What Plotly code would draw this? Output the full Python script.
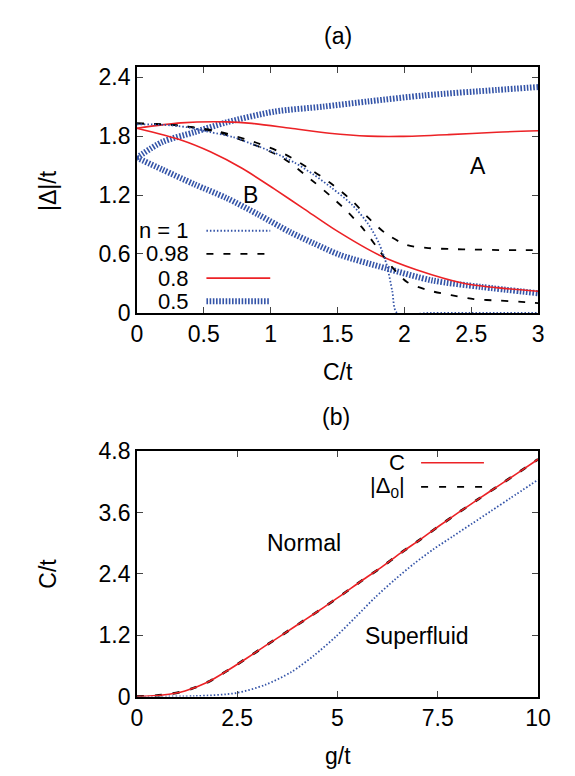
import plotly.graph_objects as go

# ---------------- Panel (a) data: |Delta|/t vs C/t ----------------
c_n1 = [0, 0.2, 0.38, 0.55, 0.72, 0.86, 1.03, 1.18, 1.32, 1.46, 1.61, 1.73, 1.81, 1.87, 1.91, 1.945, 2.2, 2.5, 3.0]
d_n1 = [1.92, 1.915, 1.89, 1.84, 1.79, 1.72, 1.63, 1.53, 1.41, 1.27, 1.10, 0.905, 0.71, 0.48, 0.22, 0.0, 0.0, 0.0, 0.0]

c_n098_up = [0, 0.3, 0.6, 0.9, 1.1, 1.3, 1.46, 1.61, 1.73, 1.86, 2.02, 2.18, 2.35, 2.52, 2.71, 2.9, 3.0]
d_n098_up = [1.93, 1.91, 1.85, 1.73, 1.62, 1.46, 1.31, 1.14, 0.97, 0.81, 0.69, 0.66, 0.65, 0.645, 0.64, 0.64, 0.64]

c_n098_lo = [0, 0.3, 0.6, 0.9, 1.1, 1.30, 1.44, 1.56, 1.69, 1.81, 1.90, 2.02, 2.18, 2.35, 2.52, 2.71, 2.9, 3.0]
d_n098_lo = [1.93, 1.91, 1.84, 1.70, 1.57, 1.36, 1.20, 1.05, 0.86, 0.64, 0.48, 0.315, 0.23, 0.18, 0.14, 0.125, 0.11, 0.10]

c_n08_up = [0, 0.33, 0.67, 0.86, 1.15, 1.44, 1.73, 1.97, 2.33, 2.69, 3.0]
d_n08_up = [1.88, 1.935, 1.945, 1.93, 1.88, 1.83, 1.80, 1.797, 1.815, 1.84, 1.855]

c_n08_lo = [0, 0.33, 0.55, 0.79, 1.03, 1.25, 1.49, 1.81, 2.09, 2.45, 2.74, 3.0]
d_n08_lo = [1.88, 1.76, 1.64, 1.47, 1.26, 1.06, 0.84, 0.59, 0.44, 0.30, 0.25, 0.22]

c_n05_up = [0, 0.19, 0.43, 0.67, 1.03, 1.39, 1.74, 2.15, 2.69, 3.0]
d_n05_up = [1.58, 1.74, 1.84, 1.94, 2.05, 2.10, 2.155, 2.215, 2.27, 2.30]

c_n05_lo = [0, 0.19, 0.43, 0.67, 0.91, 1.15, 1.32, 1.52, 1.86, 2.21, 2.57, 3.0]
d_n05_lo = [1.58, 1.46, 1.31, 1.17, 1.00, 0.82, 0.71, 0.59, 0.455, 0.33, 0.265, 0.20]

legend_a = ["n = 1", "0.98", "0.8", "0.5"]
xticks_a = [0, 0.5, 1, 1.5, 2, 2.5, 3]
xtick_text_a = ["0", "0.5", "1", "1.5", "2", "2.5", "3"]
yticks_a = [0, 0.6, 1.2, 1.8, 2.4]
ytick_text_a = ["0", "0.6", "1.2", "1.8", "2.4"]

# ---------------- Panel (b) data: C/t vs g/t ----------------
g_c = [0, 0.64, 1.20, 1.76, 2.24, 2.72, 3.20, 3.69, 4.17, 4.65, 5.13, 5.61, 6.10, 6.58, 7.06, 7.54, 8.02, 8.51, 8.99, 9.47, 10.0]
c_c = [0.0, 0.03, 0.11, 0.28, 0.50, 0.74, 0.99, 1.24, 1.49, 1.74, 2.00, 2.27, 2.53, 2.81, 3.07, 3.34, 3.60, 3.86, 4.11, 4.36, 4.64]
d0_c = [0.0, 0.03, 0.11, 0.28, 0.50, 0.74, 0.99, 1.24, 1.49, 1.74, 2.00, 2.27, 2.53, 2.81, 3.07, 3.34, 3.60, 3.86, 4.11, 4.36, 4.64]

g_blue = [0, 1.44, 2.48, 3.20, 3.85, 4.41, 4.97, 5.46, 5.94, 6.42, 6.91, 7.39, 7.87, 8.35, 8.83, 9.31, 10.0]
c_blue = [0.0, 0.01, 0.07, 0.23, 0.48, 0.80, 1.18, 1.56, 1.94, 2.28, 2.60, 2.88, 3.13, 3.38, 3.63, 3.88, 4.24]

legend_b = ["C", "|Δ<sub>0</sub>|"]
xticks_b = [0, 2.5, 5, 7.5, 10]
xtick_text_b = ["0", "2.5", "5", "7.5", "10"]
yticks_b = [0, 1.2, 2.4, 3.6, 4.8]
ytick_text_b = ["0", "1.2", "2.4", "3.6", "4.8"]

# ---------------- styling ----------------
W, H = 575, 776
FONT = "Liberation Sans, Arial, sans-serif"
FS = 23
RED = "rgb(236,34,38)"
BLUE = "rgb(52,84,168)"
BLACK = "black"

def px(x):
    return x / W

def py(y):
    return 1 - y / H

fig = go.Figure()

def add(x, y, color, width, dash, xa, ya, shape="spline"):
    fig.add_trace(go.Scatter(x=x, y=y, mode="lines", xaxis=xa, yaxis=ya,
                             line=dict(color=color, width=width, dash=dash, shape=shape, smoothing=0.8),
                             showlegend=False, hoverinfo="skip"))

# panel (a)
add(c_n05_up, d_n05_up, BLUE, 6, "1.6px,1.6px", "x", "y")
add(c_n05_lo, d_n05_lo, BLUE, 6, "1.6px,1.6px", "x", "y")
add(c_n08_up, d_n08_up, RED, 1.6, "solid", "x", "y")
add(c_n08_lo, d_n08_lo, RED, 1.6, "solid", "x", "y")
add(c_n098_up, d_n098_up, BLACK, 1.8, "7px,10px", "x", "y")
add(c_n098_lo, d_n098_lo, BLACK, 1.8, "7px,10px", "x", "y")
add(c_n1, d_n1, BLUE, 1.8, "1.5px,2px", "x", "y")

# panel (b)
add(g_blue, c_blue, BLUE, 1.8, "1.5px,2px", "x2", "y2")
add(g_c, d0_c, BLACK, 2.6, "7px,11px", "x2", "y2")
add(g_c, c_c, RED, 1.6, "solid", "x2", "y2")

axis_common = dict(showline=True, linecolor="black", linewidth=1.5, mirror="ticks",
                   ticks="inside", ticklen=6, tickwidth=1, tickcolor="#444",
                   showgrid=False, zeroline=False, tickfont=dict(family=FONT, size=FS, color="black"))

fig.update_layout(
    width=W, height=H, margin=dict(l=0, r=0, t=0, b=0),
    paper_bgcolor="white", plot_bgcolor="white",
    font=dict(family=FONT, size=FS, color="black"),
    xaxis=dict(domain=[px(127), px(542)], range=[0, 3], anchor="y",
               tickvals=xticks_a, ticktext=xtick_text_a, **axis_common),
    yaxis=dict(domain=[py(302), py(48)], range=[0, 2.5], anchor="x",
               tickvals=yticks_a, ticktext=ytick_text_a, **axis_common),
    xaxis2=dict(domain=[px(127), px(542)], range=[0, 10], anchor="y2",
                tickvals=xticks_b, ticktext=xtick_text_b, **axis_common),
    yaxis2=dict(domain=[py(699), py(445)], range=[0, 4.8], anchor="x2",
                tickvals=yticks_b, ticktext=ytick_text_b, **axis_common),
)

ann = []
def text(x, y, s, xref="paper", yref="paper", xanchor="center", angle=0, size=FS):
    ann.append(dict(x=x, y=y, xref=xref, yref=yref, text=s, showarrow=False,
                    xanchor=xanchor, yanchor="middle", textangle=angle,
                    font=dict(family=FONT, size=size, color="black")))

text(px(335), py(16), "(a)")
text(px(333), py(410), "(b)")
text(px(335), py(363), "C/t")
text(px(335), py(760), "g/t")
text(px(35), py(175), "|Δ|/t", angle=-90)
text(px(35), py(572), "C/t", angle=-90)
text(2.55, 1.50, "A", "x", "y")
text(0.85, 1.20, "B", "x", "y")
text(px(300), py(540), "Normal")
text(px(417), py(636), "Superfluid")

# legend (a): right-aligned labels with samples to the right
leg_y_a = [217, 241, 266, 290]
leg_style_a = [(BLUE, 1.8, "1.5px,2px"), (BLACK, 1.8, "7px,10px"), (RED, 1.6, "solid"), (BLUE, 6, "1.6px,1.6px")]
shapes = []
for lab, yy, (col, w, d) in zip(legend_a, leg_y_a, leg_style_a):
    text(px(183), py(yy), lab, xanchor="right", size=22)
    shapes.append(dict(type="line", xref="paper", yref="paper", x0=px(199), x1=px(265),
                       y0=py(yy), y1=py(yy), line=dict(color=col, width=w, dash=d)))

leg_y_b = [457, 482]
leg_style_b = [(RED, 1.6, "solid"), (BLACK, 1.8, "7px,11px")]
for lab, yy, (col, w, d) in zip(legend_b, leg_y_b, leg_style_b):
    text(px(406), py(yy), lab, xanchor="right", size=22)
    shapes.append(dict(type="line", xref="paper", yref="paper", x0=px(421), x1=px(486),
                       y0=py(yy), y1=py(yy), line=dict(color=col, width=w, dash=d)))

fig.update_layout(annotations=ann, shapes=shapes)
fig.write_html("out.html")
